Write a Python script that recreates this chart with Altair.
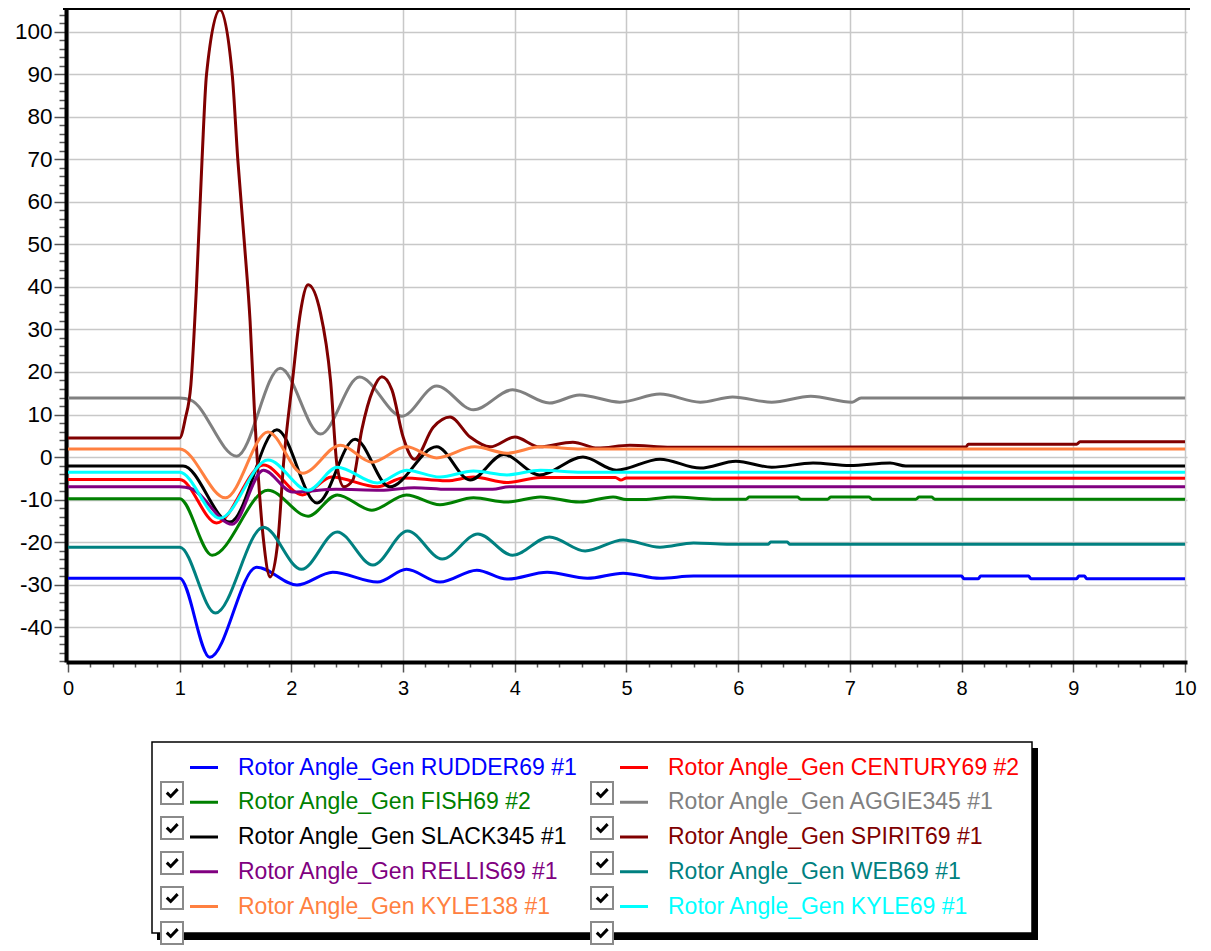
import altair as alt
import pandas as pd

SERIES = [
    "Rotor Angle_Gen RUDDER69 #1", "Rotor Angle_Gen CENTURY69 #2",
    "Rotor Angle_Gen FISH69 #2", "Rotor Angle_Gen AGGIE345 #1",
    "Rotor Angle_Gen SLACK345 #1", "Rotor Angle_Gen SPIRIT69 #1",
    "Rotor Angle_Gen RELLIS69 #1", "Rotor Angle_Gen WEB69 #1",
    "Rotor Angle_Gen KYLE138 #1", "Rotor Angle_Gen KYLE69 #1",
]
COLORS = ["#0000FF", "#FF0000", "#008000", "#808080", "#000000",
          "#800000", "#800080", "#008080", "#FF8040", "#00FFFF"]

T_RUDDER = [0, 1.0, 1.27, 1.69, 2.05, 2.37, 2.77, 3.03, 3.33, 3.66, 3.93, 4.29, 4.65, 4.97, 5.3, 5.6,
            8.0, 8.02, 8.15, 8.17, 8.6, 8.62, 9.03, 9.05, 9.1, 9.12, 10]
V_RUDDER = [-28.5, -28.5, -47.1, -25.9, -30.1, -27.1, -29.4, -26.4, -29.4, -26.6, -28.7, -27.1, -28.5, -27.3, -28.5, -28.0,
            -28.0, -28.6, -28.6, -28.0, -28.0, -28.6, -28.6, -28.0, -28.0, -28.6, -28.6]

T_CENTURY = [0, 1.0, 1.33, 1.75, 2.1, 2.36, 2.77, 3.0, 3.39, 3.63, 3.93, 4.23, 4.9, 4.95, 5.0, 10]
V_CENTURY = [-5.3, -5.3, -15.5, -1.9, -8.9, -4.7, -7.0, -4.9, -5.6, -4.7, -6.0, -4.8, -4.8, -5.4, -4.9, -5.0]

T_FISH = [0, 1.0, 1.29, 1.79, 2.15, 2.41, 2.72, 3.03, 3.33, 3.63, 3.93, 4.23, 4.58, 4.88, 5.0, 5.15, 5.42, 5.77,
          6.07, 6.1, 6.53, 6.56, 6.8, 6.83, 7.17, 7.2, 7.59, 7.62, 7.73, 7.76, 10]
V_FISH = [-9.8, -9.8, -23.1, -7.8, -13.9, -8.9, -12.5, -8.9, -11.2, -9.6, -10.6, -9.4, -10.6, -9.4, -10.0, -10.0, -9.4, -9.9,
          -9.9, -9.4, -9.4, -9.9, -9.9, -9.4, -9.4, -9.9, -9.9, -9.4, -9.4, -9.9, -9.9]

T_AGGIE = [0, 1.0, 1.1, 1.51, 1.90, 2.26, 2.61, 2.99, 3.3, 3.63, 3.98, 4.31, 4.58, 4.94, 5.3, 5.66, 5.95,
           6.3, 6.65, 7.02, 7.1, 10]
V_AGGIE = [13.9, 13.9, 13.4, 0.2, 20.9, 5.4, 18.8, 9.6, 16.7, 11.1, 15.8, 12.7, 14.6, 12.9, 14.8, 12.9, 14.1,
           12.9, 14.3, 12.9, 13.9, 13.9]

T_SLACK = [0, 1.03, 1.45, 1.87, 2.23, 2.57, 2.88, 3.3, 3.6, 3.9, 4.22, 4.61, 4.91, 5.3, 5.66, 5.98, 6.3, 6.67,
           7.0, 7.36, 7.5, 10]
V_SLACK = [-2.1, -2.1, -15.3, 6.4, -10.8, 4.2, -7.0, 2.4, -5.4, 0.6, -4.2, 0.0, -3.1, -0.5, -2.6, -1.0, -2.4, -1.4,
           -2.0, -1.4, -2.1, -2.1]

T_SPIRIT = [0, 1.0, 1.05, 1.1, 1.15, 1.2, 1.24, 1.36, 1.47, 1.52, 1.58, 1.63, 1.67, 1.75, 1.81, 1.88, 1.93,
            2.01, 2.08, 2.15, 2.26, 2.35, 2.41, 2.47, 2.55, 2.63, 2.73, 2.81, 2.9, 3.0, 3.1, 3.27, 3.42,
            3.6, 3.78, 4.0, 4.22, 4.52, 4.74, 5.03, 5.4, 8.04, 8.06, 9.03, 9.06, 10]
V_SPIRIT = [4.5, 4.5, 9.0, 17.0, 40.0, 70.0, 90.0, 105.2, 90.0, 70.0, 50.0, 32.0, 10.4, -19.5, -28.2, -19.5, -1.4,
            18.0, 33.9, 40.5, 33.9, 18.1, -2.3, -7.0, -5.4, 6.4, 15.8, 18.9, 15.8, 4.7, -0.5, 7.0, 9.4,
            4.7, 2.4, 4.7, 2.4, 3.5, 2.1, 2.8, 2.3, 2.4, 3.0, 3.0, 3.6, 3.6]

T_RELLIS = [0, 1.0, 1.1, 1.47, 1.75, 2.01, 2.4, 2.8, 3.1, 3.4, 3.8, 3.95, 10]
V_RELLIS = [-7.0, -7.0, -7.4, -15.8, -3.1, -8.2, -7.6, -7.8, -7.2, -7.6, -7.6, -7.0, -7.0]

T_WEB = [0, 1.0, 1.32, 1.75, 2.09, 2.41, 2.73, 3.04, 3.35, 3.67, 3.98, 4.31, 4.63, 4.97, 5.3, 5.6, 5.9,
         6.27, 6.29, 6.44, 6.46, 10]
V_WEB = [-21.2, -21.2, -36.7, -16.5, -26.4, -17.6, -25.4, -17.4, -24.0, -18.1, -23.1, -18.8, -22.1, -19.5, -21.2, -20.2, -20.5,
         -20.5, -20.0, -20.0, -20.5, -20.5]

T_KYLE138 = [0, 1.0, 1.41, 1.79, 2.1, 2.44, 2.72, 3.03, 3.3, 3.64, 3.93, 4.23, 4.6, 10]
V_KYLE138 = [1.9, 1.9, -9.6, 5.9, -3.8, 2.8, -1.2, 2.4, -0.2, 2.4, 0.9, 2.4, 1.9, 1.9]

T_KYLE69 = [0, 1.0, 1.36, 1.79, 2.15, 2.41, 2.77, 3.03, 3.33, 3.63, 3.93, 4.23, 4.6, 10]
V_KYLE69 = [-3.6, -3.6, -14.4, -0.7, -7.8, -2.4, -6.1, -3.1, -4.7, -3.3, -4.2, -3.1, -3.6, -3.6]

TIMES = [T_RUDDER, T_CENTURY, T_FISH, T_AGGIE, T_SLACK, T_SPIRIT, T_RELLIS, T_WEB, T_KYLE138, T_KYLE69]
VALUES = [V_RUDDER, V_CENTURY, V_FISH, V_AGGIE, V_SLACK, V_SPIRIT, V_RELLIS, V_WEB, V_KYLE138, V_KYLE69]

X_TICKS = [round(i * 0.2, 1) for i in range(51)]
Y_TICKS = list(range(-48, 106, 2))

rows = []
for s, ts, vs in zip(SERIES, TIMES, VALUES):
    for t, v in zip(ts, vs):
        rows.append({"series": s, "t": t, "v": v})
df = pd.DataFrame(rows)

W, H = 1121, 654
FONT = "Liberation Sans"
color_scale = alt.Scale(domain=SERIES, range=COLORS)

x_major = "abs(datum.value - round(datum.value)) < 0.001"
y_major = "abs(datum.value / 10 - round(datum.value / 10)) < 0.001"

x_axis = alt.Axis(
    values=X_TICKS, title=None, grid=True, gridColor="#C8C8C8", gridWidth=1.5,
    gridOpacity={"condition": {"test": x_major, "value": 1}, "value": 0},
    tickSize={"condition": {"test": x_major, "value": 10}, "value": 5},
    labelExpr=f"{x_major} ? '' + round(datum.value) : ''",
    labelFontSize={"condition": {"test": x_major, "value": 20}, "value": 0},
    domainColor="black", domainWidth=4, tickColor="#555555", tickWidth=1.5,
    labelFont=FONT, labelColor="black", labelPadding=6,
    labelFlush=False, labelOverlap=False, labelBound=False,
    minExtent=40, maxExtent=40,
)
y_axis = alt.Axis(
    values=Y_TICKS, title=None, grid=True, gridColor="#C8C8C8", gridWidth=1.5,
    gridOpacity={"condition": {"test": y_major, "value": 1}, "value": 0},
    tickSize={"condition": {"test": y_major, "value": 12}, "value": 7},
    labelExpr=f"{y_major} ? '' + round(datum.value) : ''",
    labelFontSize={"condition": {"test": y_major, "value": 22.5}, "value": 0},
    domainColor="black", domainWidth=4, tickColor="#555555", tickWidth=1.5,
    labelFont=FONT, labelColor="black", labelPadding=2,
    labelFlush=False, labelOverlap=False, labelBound=False,
    minExtent=58, maxExtent=58,
)

lines = alt.Chart(df).mark_line(strokeWidth=3, interpolate="monotone", clip=True).encode(
    x=alt.X("t:Q", scale=alt.Scale(domain=[-0.018, 10.018], nice=False, zero=False), axis=x_axis),
    y=alt.Y("v:Q", scale=alt.Scale(domain=[-48.2, 105.6], nice=False, zero=False), axis=y_axis),
    color=alt.Color("series:N", scale=color_scale, legend=None),
    detail="series:N",
)
one = pd.DataFrame({"a": [0]})
top_rule = alt.Chart(one).mark_rule(color="black", strokeWidth=2).encode(
    x=alt.value(-3), x2=alt.value(W + 3), y=alt.value(1)
)
main = alt.layer(lines, top_rule).properties(width=W, height=H)

# ---- legend box (manual, below the plot)
leg = pd.DataFrame({"series": SERIES, "idx": list(range(len(SERIES)))})
leg_base = alt.Chart(leg).transform_calculate(
    row="floor(datum.idx / 2)", col="datum.idx % 2"
).transform_calculate(
    lx="124 + datum.col * 430", lx2="152 + datum.col * 430",
    ly="37.5 + datum.row * 34.75", tx="172 + datum.col * 430",
)
shadow = alt.Chart(one).mark_rect(color="black").encode(
    x=alt.value(91), x2=alt.value(972), y=alt.value(18), y2=alt.value(210)
)
box = alt.Chart(one).mark_rect(fill="white", stroke="black", strokeWidth=1.5).encode(
    x=alt.value(86), x2=alt.value(966), y=alt.value(12), y2=alt.value(203)
)
samples = leg_base.mark_rule(strokeWidth=3).encode(
    x=alt.X("lx:Q", scale=None), x2="lx2:Q", y=alt.Y("ly:Q", scale=None),
    color=alt.Color("series:N", scale=color_scale, legend=None),
)
texts = leg_base.mark_text(align="left", baseline="middle", font=FONT, fontSize=23).encode(
    x=alt.X("tx:Q", scale=None), y=alt.Y("ly:Q", scale=None), text="series:N",
    color=alt.Color("series:N", scale=color_scale, legend=None),
)
cb = pd.DataFrame({"k": list(range(10))})
cb_base = alt.Chart(cb).transform_calculate(
    cx="106 + (datum.k % 2) * 430", cy="63 + floor(datum.k / 2) * 35"
)
boxes = cb_base.mark_square(size=484, fill="white", stroke="#8A8A8A", strokeWidth=2, opacity=1).encode(
    x=alt.X("cx:Q", scale=None), y=alt.Y("cy:Q", scale=None)
)
checks = cb_base.mark_point(
    shape="M-0.6,-0.05L-0.15,0.4L0.65,-0.45", size=300, filled=False,
    stroke="black", strokeWidth=3, opacity=1
).encode(x=alt.X("cx:Q", scale=None), y=alt.Y("cy:Q", scale=None))

legend = alt.layer(shadow, box, samples, texts, boxes, checks).properties(width=W, height=215)

chart = alt.vconcat(main, legend, spacing=28).properties(padding=0).configure_view(stroke=None)
chart.save("out.html", embed_options={"renderer": "svg", "actions": False})
